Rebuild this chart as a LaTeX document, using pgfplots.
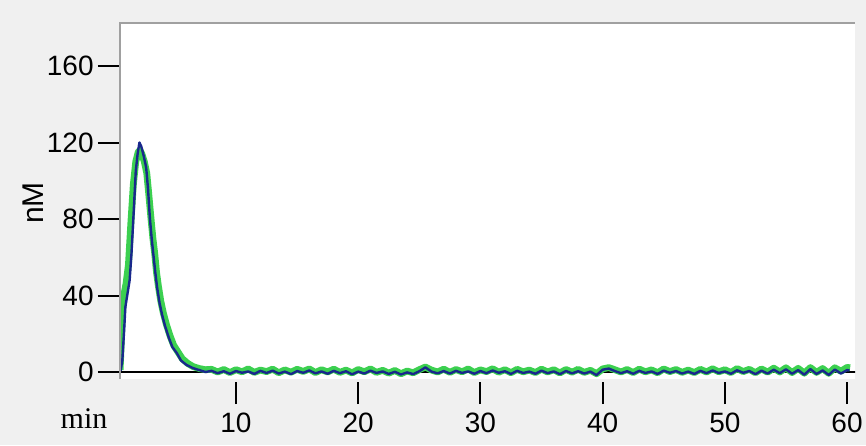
\documentclass[border=0pt]{standalone}
\usepackage{fontspec}
\setmainfont{Liberation Sans}
\newfontfamily\minfont{Liberation Serif}
\usepackage{pgfplots}
\pgfplotsset{compat=1.18}
\definecolor{bggray}{RGB}{240,240,240}
\definecolor{framegray}{RGB}{160,160,160}
\definecolor{tracegreen}{RGB}{60,208,80}
\definecolor{traceblue}{RGB}{25,40,140}

\begin{document}
\begin{tikzpicture}
\fill[bggray] (0,0) rectangle (433pt,222.5pt);
\useasboundingbox (0,0) rectangle (433pt,222.5pt);
\begin{axis}[
  name=ax,
  at={(60pt,33pt)}, anchor=south west,
  scale only axis, width=367.5pt, height=178pt,
  xmin=0.51, xmax=60.65, ymin=-3.66, ymax=182.5,
  axis line style={draw=none},
  axis background/.style={fill=white},
  xtick={10,20,...,60}, ytick={0,40,...,160},
  xtick pos=bottom, ytick pos=left,
  tick align=outside,
  major tick length=11pt,
  tick style={black, line width=1pt},
  xtick style={yshift=-1.5pt},
  tick label style={font=\fontsize{14}{16}\selectfont},
  yticklabel style={inner sep=0pt, xshift=-2pt},
  xticklabel style={inner sep=0pt, yshift=-6pt},
  /pgf/number format/assume math mode=true,
]
% zero line
\addplot[black, line width=0.8pt] coordinates {(0.5,0) (60.7,0)};
% green trace
\addplot[tracegreen, line width=3.4pt, line join=round] coordinates {
(0.52,1) (0.6,14) (0.7,30) (0.82,40) (1.0,46) (1.2,56) (1.4,78) (1.6,98) (1.8,110)
(2.0,115) (2.15,116) (2.3,114) (2.5,110) (2.7,104) (2.85,94) (3.05,80) (3.2,70)
(3.35,62) (3.5,52) (3.65,45) (3.85,37) (4.05,31) (4.3,25) (4.6,19) (4.9,14)
(5.25,10.5) (5.6,7) (6.05,4.5) (6.5,2.8) (7.0,1.8) (7.5,1.2)
(8,1.4) (8.5,0) (9,1.3) (9.5,-0.3) (10,1.2) (10.5,0.1) (11,1.6) (11.5,-0.2)
(12,1.0) (12.5,0.2) (13,1.5) (13.5,-0.4) (14,1.1) (14.5,-0.1) (15,1.4) (15.5,0.3)
(16,1.6) (16.5,-0.3) (17,1.2) (17.5,0) (18,1.5) (18.5,-0.2) (19,1.0) (19.5,-0.5)
(20,1.3) (20.5,0.1) (21,1.6) (21.5,-0.2) (22,0.9) (22.5,-0.6) (23,0.8) (23.5,-0.9)
(24,0.5) (24.5,-0.4) (25,1.2) (25.5,2.6) (26,1.0) (26.5,0) (27,1.5) (27.5,-0.2)
(28,1.3) (28.5,0.1) (29,1.6) (29.5,-0.3) (30,1.1) (30.5,0.2) (31,1.7) (31.5,-0.1)
(32,1.2) (32.5,-0.4) (33,1.4) (33.5,0.1) (34,1.0) (34.5,-0.3) (35,1.5) (35.5,0)
(36,1.2) (36.5,-0.5) (37,1.3) (37.5,-0.1) (38,1.4) (38.5,-0.2) (39,0.9) (39.5,-0.9)
(40,1.6) (40.5,2.3) (41,1.2) (41.5,0) (42,1.3) (42.5,-0.3) (43,1.5) (43.5,0.1)
(44,1.1) (44.5,-0.4) (45,1.6) (45.5,0.2) (46,1.3) (46.5,-0.2) (47,1.0) (47.5,-0.3)
(48,1.4) (48.5,0) (49,1.7) (49.5,0.1) (50,1.2) (50.5,-0.3) (51,1.8) (51.5,0.2)
(52,1.4) (52.5,-0.4) (53,1.6) (53.5,-0.1) (54,2.0) (54.5,0) (55,2.2) (55.5,-0.3)
(56,1.9) (56.5,-0.6) (57,2.3) (57.5,-0.2) (58,1.8) (58.5,-0.7) (59,2.2) (59.5,0.4)
(60,2.4) (60.25,2.2)
};
% blue trace
\addplot[traceblue, line width=1.2pt, line join=round] coordinates {
(0.55,0.5) (0.7,6) (0.85,22) (0.95,34) (1.1,40) (1.3,48) (1.45,62) (1.6,80)
(1.8,105) (1.95,114) (2.1,120) (2.25,118) (2.45,113) (2.65,107) (2.8,96)
(2.96,80) (3.1,70) (3.23,62) (3.4,52) (3.55,44) (3.75,36) (3.95,30) (4.2,24)
(4.5,18) (4.8,13) (5.15,10) (5.5,6) (5.95,3.7) (6.5,2) (7.0,1) (7.5,0)
(8,0.6) (8.5,-0.6) (9,0.4) (9.5,-0.9) (10,0.5) (10.5,-0.4) (11,0.3) (11.5,-1.0)
(12,0.6) (12.5,-0.5) (13,0.7) (13.5,-0.8) (14,0.2) (14.5,-1.1) (15,0.5) (15.5,-0.4)
(16,0.8) (16.5,-0.7) (17,0.3) (17.5,-0.9) (18,0.6) (18.5,-0.6) (19,0.4) (19.5,-1.2)
(20,0.2) (20.5,-0.8) (21,0.7) (21.5,-0.5) (22,0.3) (22.5,-1.0) (23,0.1) (23.5,-1.3)
(24,-0.2) (24.5,-1.1) (25,0.4) (25.5,2.4) (26,0.2) (26.5,-0.7) (27,0.5) (27.5,-0.8)
(28,0.6) (28.5,-0.5) (29,0.3) (29.5,-0.9) (30,0.5) (30.5,-0.6) (31,0.8) (31.5,-0.4)
(32,0.4) (32.5,-1.0) (33,0.6) (33.5,-0.5) (34,0.2) (34.5,-0.9) (35,0.7) (35.5,-0.6)
(36,0.3) (36.5,-1.1) (37,0.5) (37.5,-0.7) (38,0.4) (38.5,-0.8) (39,0.2) (39.5,-1.6)
(40,1.2) (40.5,1.8) (41,0.5) (41.5,-0.6) (42,0.4) (42.5,-0.9) (43,0.6) (43.5,-0.5)
(44,0.3) (44.5,-1.0) (45,0.7) (45.5,-0.4) (46,0.5) (46.5,-0.8) (47,0.2) (47.5,-1.0)
(48,0.6) (48.5,-0.6) (49,0.8) (49.5,-0.5) (50,0.3) (50.5,-0.9) (51,0.9) (51.5,-0.4)
(52,0.5) (52.5,-1.1) (53,0.7) (53.5,-0.8) (54,1.2) (54.5,-0.6) (55,1.4) (55.5,-0.9)
(56,1.0) (56.5,-1.4) (57,1.5) (57.5,-1.0) (58,0.8) (58.5,-1.5) (59,1.3) (59.5,-0.8)
(60,1.0) (60.2,0.8)
};
\end{axis}
\draw[framegray, line width=1.2pt] (ax.south west) -- (ax.north west) -- (ax.north east);
\node[rotate=90, font=\fontsize{15}{17}\selectfont] at (16.5pt,121pt) {nM};
\node[anchor=base, font=\minfont\fontsize{15}{17}\selectfont] at (42pt,8.5pt) {min};
\end{tikzpicture}
\end{document}
